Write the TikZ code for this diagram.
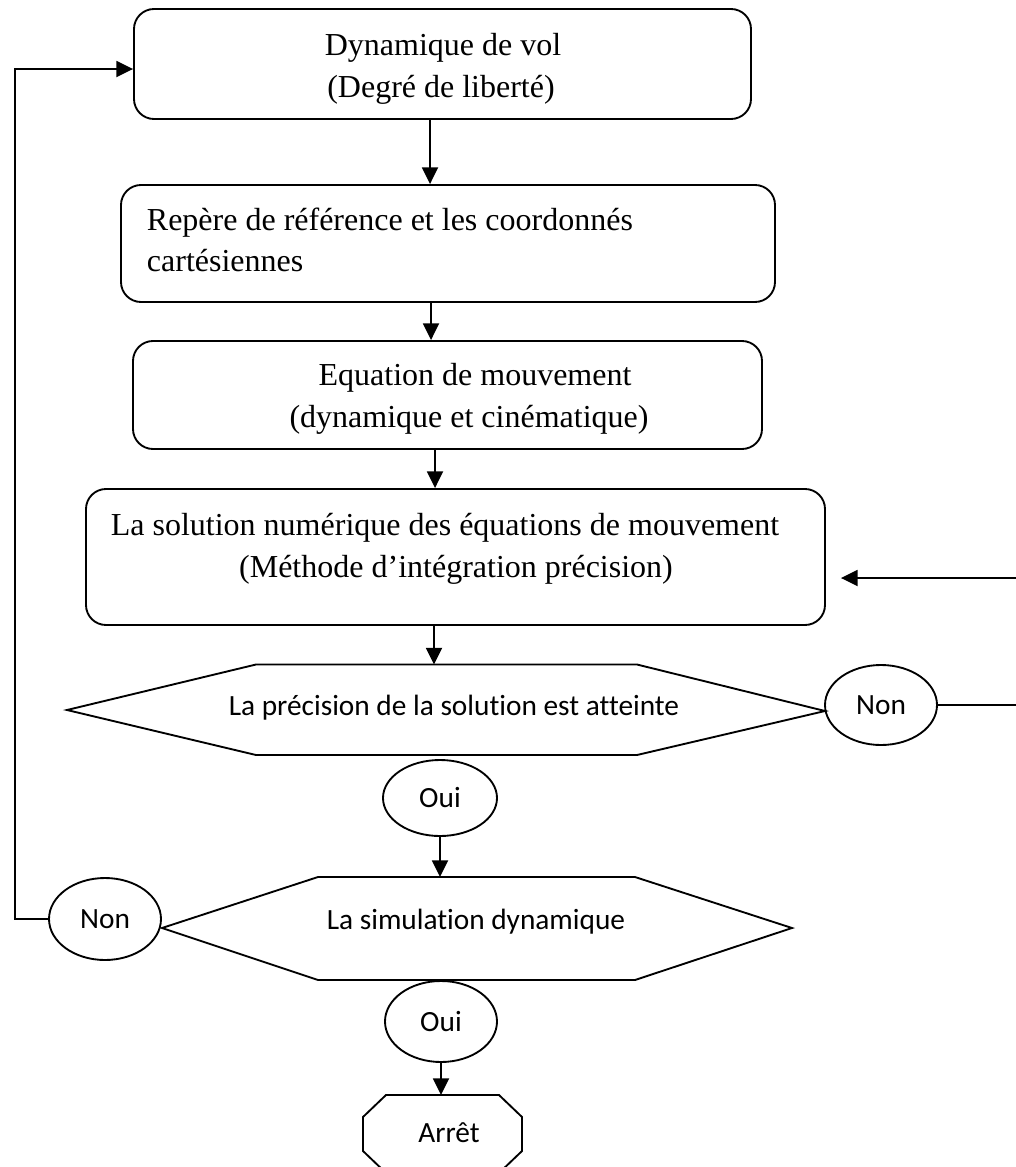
\documentclass[tikz,border=0pt]{standalone}
\usepackage{fontspec}
\setmainfont{Liberation Serif}
\newfontfamily\calib[Ligatures={NoCommon}]{Carlito}
\usetikzlibrary{arrows.meta,shapes.geometric}
\begin{document}
\begin{tikzpicture}[x=0.75pt,y=-0.75pt, line width=1.4pt,
  box/.style={draw, rounded corners=15pt, inner sep=0pt},
  serif/.style={font=\fontsize{24pt}{32pt}\selectfont, inner sep=0pt},
  sans/.style={font=\calib\fontsize{22pt}{26pt}\selectfont, inner sep=0pt},
  oval/.style={draw, ellipse, inner sep=0pt, font=\calib\fontsize{22pt}{26pt}\selectfont},
  arr/.style={-{Triangle[length=12.5pt,width=12pt]}},
]
\useasboundingbox (0,0) rectangle (1016,1167);

% boxes
\node[box, minimum width=462.75pt, minimum height=82.5pt] (b1) at (442.5,64) {};
\node[box, minimum width=490.5pt, minimum height=87.75pt] (b2) at (448,243.5) {};
\node[box, minimum width=471.75pt, minimum height=81pt] (b3) at (447.5,395) {};
\node[box, minimum width=554.25pt, minimum height=102pt] (b4) at (455.5,557) {};

% box texts
\node[serif, anchor=base] (t1a) at (443,55) {Dynamique de vol};
\node[serif, anchor=base] (t1b) at (441,97) {(Degré de liberté)};
\node[serif, anchor=base west] (t2a) at (146,230) {Repère de référence et les coordonnés};
\node[serif, anchor=base west] (t2b) at (146,271) {cartésiennes};
\node[serif, anchor=base] (t3a) at (475,385) {Equation de mouvement};
\node[serif, anchor=base] (t3b) at (469,427) {(dynamique et cinématique)};
\node[serif, anchor=base] (t4a) at (445,535) {La solution numérique des équations de mouvement};
\node[serif, anchor=base] (t4b) at (456,577) {(Méthode d’intégration précision)};

% hexagon 1
\draw (67,710) -- (256,664.5) -- (637,664.5) -- (825,711) -- (637,755) -- (256,755) -- cycle;
\coordinate (h1t) at (434,664.5);
\node[sans, anchor=base] (h1) at (454,715) {La précision de la solution est atteinte};

% hexagon 2
\draw (162,928) -- (318,877) -- (635,877) -- (792,928) -- (635,980) -- (318,980) -- cycle;
\coordinate (h2t) at (440,877);
\node[sans, anchor=base] (h2) at (476,929) {La simulation dynamique};

% stop octagon
\draw (386,1095) -- (499,1095) -- (522,1117) -- (522,1151) -- (499,1173) -- (386,1173) -- (363,1151) -- (363,1117) -- cycle;
\coordinate (stn) at (445,1095);
\node[sans, anchor=base] (st) at (449,1142) {Arrêt};

% ovals
\node[oval, minimum width=84pt, minimum height=60pt] (n1) at (881,705) {Non};
\node[oval, minimum width=85.5pt, minimum height=57pt] (o1) at (440,798) {Oui};
\node[oval, minimum width=84pt, minimum height=61.5pt] (n2) at (105,919) {Non};
\node[oval, minimum width=84pt, minimum height=60.75pt] (o2) at (441,1021.5) {Oui};

% helper coordinates
\coordinate (x1) at (430,0);
\coordinate (x2) at (431,0);
\coordinate (x3) at (435,0);
\coordinate (rEdge) at (1018,0);
\coordinate (rB) at (1018,578);
\coordinate (lc) at (15,69);

% connectors
\draw[arr] (b1.south -| x1) -- (b2.north -| x1);
\draw[arr] (b2.south -| x2) -- (b3.north -| x2);
\draw[arr] (b3.south -| x3) -- (b4.north -| x3);
\draw[arr] (b4.south -| h1t) -- (h1t);
\draw[arr] (o1.south) -- (o1.south |- h2t);
\draw[arr] (o2.south) -- (o2.south |- stn);
\draw (n1.east) -- (n1.east -| rEdge);
\draw[arr, shorten >=11.25pt] (rB) -- (rB -| b4.east);
\draw[arr] (n2.west) -- (n2.west -| lc) -- (lc) -- (lc -| b1.west);
\end{tikzpicture}
\end{document}
